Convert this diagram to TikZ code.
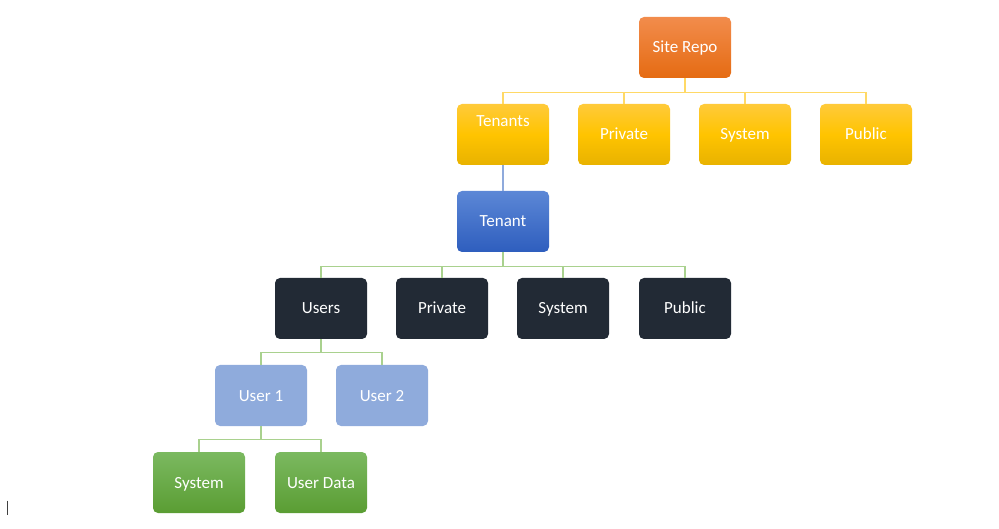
\documentclass[tikz,border=0pt]{standalone}
\usepackage{fontspec}
\setmainfont{Carlito}
\usetikzlibrary{positioning}
\definecolor{orT}{HTML}{F28C4C}
\definecolor{orB}{HTML}{E56B12}
\definecolor{yeT}{HTML}{FFCA3A}
\definecolor{yeM}{HTML}{FFC400}
\definecolor{yeB}{HTML}{E8B200}
\definecolor{blT}{HTML}{5C87D6}
\definecolor{blB}{HTML}{2E5EBE}
\definecolor{dk}{HTML}{222A35}
\definecolor{lb}{HTML}{8FABDC}
\definecolor{grT}{HTML}{7BB960}
\definecolor{grB}{HTML}{5A9D33}
\definecolor{lnY}{HTML}{FFD966}
\definecolor{lnB}{HTML}{8FAADC}
\definecolor{lnG}{HTML}{A9D18E}
\tikzset{
  lbl/.style={text=white, font=\fontsize{17}{20}\selectfont, inner sep=0pt,
    text height=13pt, text depth=2pt},
  box/.style={lbl, minimum width=92pt, minimum height=61pt, rounded corners=5pt},
  orbox/.style={box, top color=orT, bottom color=orB},
  yebox/.style={box, top color=yeT, bottom color=yeB, middle color=yeM},
  blbox/.style={box, top color=blT, bottom color=blB},
  dkbox/.style={box, fill=dk},
  lbbox/.style={box, fill=lb},
  grbox/.style={box, top color=grT, bottom color=grB},
  conn/.style={line width=1.2pt}
}
\begin{document}
\begin{tikzpicture}[x=1pt,y=-1pt]
\useasboundingbox (0,0) rectangle (999,529);
% nodes
\node[orbox] (site) at (685,47.5) {Site Repo};
\node[yebox] (tenants) at (503,134.5) {};
\node[lbl] (tenantslbl) at (503,121) {Tenants};
\node[yebox] (priv1) at (624,134.5) {Private};
\node[yebox] (sys1) at (745,134.5) {System};
\node[yebox] (pub1) at (866,134.5) {Public};
\node[blbox] (tenant) at (503,221.5) {Tenant};
\node[dkbox] (users) at (321,308.5) {Users};
\node[dkbox] (priv2) at (442,308.5) {Private};
\node[dkbox] (sys2) at (563,308.5) {System};
\node[dkbox] (pub2) at (685,308.5) {Public};
\node[lbbox] (u1) at (261,395.5) {User 1};
\node[lbbox] (u2) at (382,395.5) {User 2};
\node[grbox] (sys3) at (199,482.5) {System};
\node[grbox] (udata) at (321,482.5) {User Data};
% connectors
\foreach \c in {tenants,priv1,sys1,pub1}
  \draw[conn, lnY] (site.south) -- ++(0,14) -| (\c.north);
\draw[conn, lnB] (tenants.south) -- (tenant.north);
\foreach \c in {users,priv2,sys2,pub2}
  \draw[conn, lnG] (tenant.south) -- ++(0,14) -| (\c.north);
\foreach \c in {u1,u2}
  \draw[conn, lnG] (users.south) -- ++(0,13) -| (\c.north);
\foreach \c in {sys3,udata}
  \draw[conn, lnG] (u1.south) -- ++(0,13) -| (\c.north);
% cursor mark
\coordinate (curA) at (7.5,500.5);
\coordinate (curB) at (7.5,514.5);
\draw[line width=1pt, black!75] (curA) -- (curB);
\end{tikzpicture}
\end{document}
